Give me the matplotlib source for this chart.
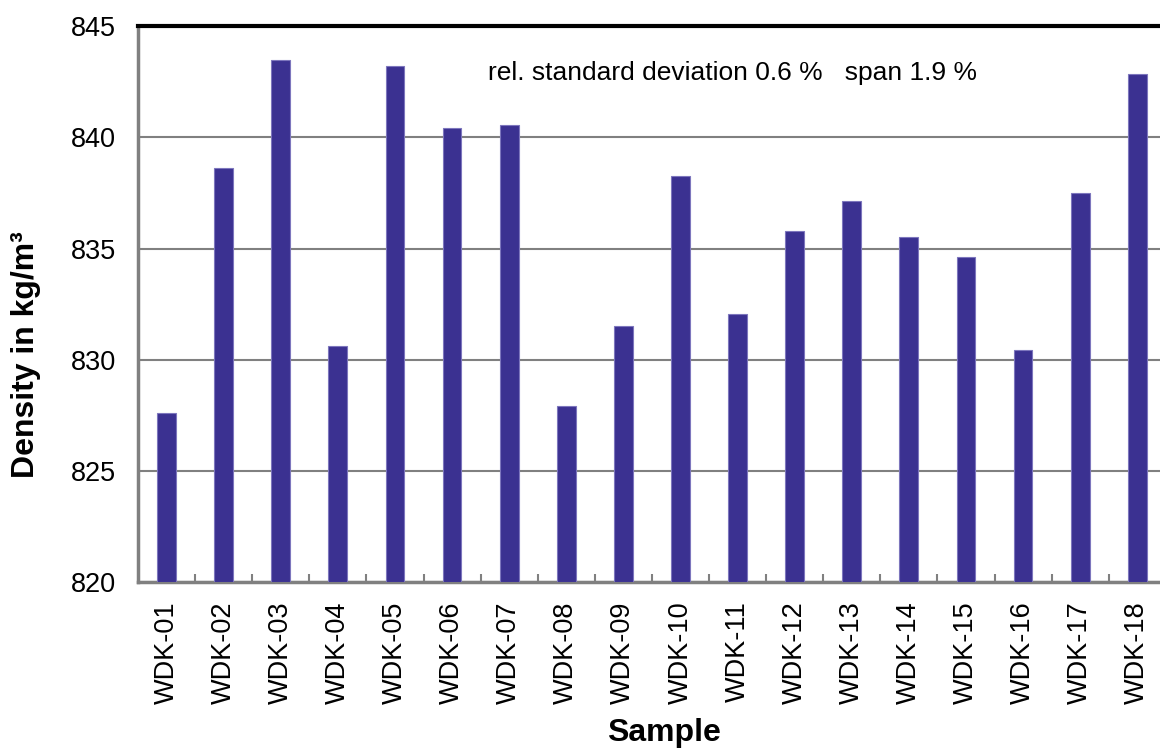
import numpy as np
import matplotlib
matplotlib.use("Agg")
import matplotlib.pyplot as plt
from matplotlib.ticker import MultipleLocator, FixedLocator

plt.rcParams["font.family"] = ["Liberation Sans", "DejaVu Sans"]

# densities of the diesel samples
samples = ["WDK-%02d" % i for i in range(1, 19)]
density = [827.6, 838.6, 843.5, 830.6, 843.2, 840.4, 840.55, 827.9, 831.5,
           838.25, 832.05, 835.8, 837.15, 835.5, 834.6, 830.45, 837.5, 842.85]
note = "rel. standard deviation 0.6 %   span 1.9 %"

fig = plt.figure(figsize=(11.6, 7.49), dpi=100)
ax = fig.add_axes([0.119, 0.223, 0.886, 0.742])

x = np.arange(len(samples))
ax.bar(x, [d - 820 for d in density], bottom=820, width=0.33,
       color="#3b3191", edgecolor="#7d76bd", linewidth=0.8, zorder=3)

ax.set_xlim(-0.5, len(samples) - 0.5)
ax.set_ylim(820, 845)
ax.yaxis.set_major_locator(MultipleLocator(5))
ax.yaxis.grid(True, color="#808080", linewidth=1.5, zorder=0)

ax.set_xticks(x)
ax.set_xticklabels(samples, rotation=90, fontsize=19.5)
ax.xaxis.set_minor_locator(FixedLocator(np.arange(0.5, len(samples) - 0.5, 1)))
ax.tick_params(axis="x", which="major", length=0, pad=14)
ax.tick_params(axis="x", which="minor", direction="in", length=6, width=1.5,
               color="#808080")
ax.tick_params(axis="y", length=0, pad=16, labelsize=19.5)

for side in ["left", "bottom"]:
    ax.spines[side].set_color("#808080")
    ax.spines[side].set_linewidth(2.5)
ax.spines["top"].set_color("black")
ax.spines["top"].set_linewidth(3)
ax.spines["right"].set_visible(False)

ax.set_xlabel("Sample", fontsize=23, fontweight="bold")
ax.set_ylabel("Density in kg/m³", fontsize=23, fontweight="bold")
ax.xaxis.set_label_coords(0.512, -0.245)
ax.yaxis.set_label_coords(-0.094, 0.41)

ax.text(0.578, 0.915, note, transform=ax.transAxes, ha="center", va="center",
        fontsize=19)

fig.savefig("out.png", dpi=100)
